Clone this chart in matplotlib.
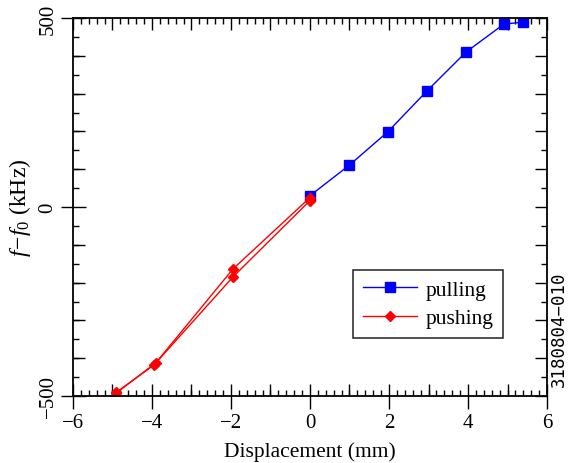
import matplotlib
matplotlib.use("Agg")
import matplotlib.pyplot as plt
from matplotlib.ticker import MultipleLocator, FixedLocator, NullFormatter

plt.rcParams['font.family'] = ['Liberation Serif', 'DejaVu Serif']
plt.rcParams['mathtext.fontset'] = 'custom'
plt.rcParams['mathtext.rm'] = 'Liberation Serif'
plt.rcParams['mathtext.it'] = 'Liberation Serif:italic'
plt.rcParams['axes.unicode_minus'] = True

# pulling data (mm, kHz)
pull_x = [0.0, 1.0, 1.97, 2.96, 3.95, 4.91, 5.39]
pull_y = [30, 111, 199, 307, 410, 484, 489]

# pushing data, out and back
push_x_out = [0.0, -1.95, -3.9, -4.9]
push_y_out = [25, -164, -412, -492]
push_x_back = [0.0, -1.95, -3.95, -4.9]
push_y_back = [17, -185, -418, -490]

x_labels = [-6, -4, -2, 0, 2, 4, 6]
y_labels = [-500, 0, 500]

fig = plt.figure(figsize=(5.81, 4.64), dpi=100)
ax = fig.add_axes([0.1256, 0.1444, 0.8159, 0.8146])

ax.plot(pull_x, pull_y, color='blue', lw=1, marker='s', ms=7.5, label='pulling')
ax.plot(push_x_out, push_y_out, color='red', lw=1, marker='D', ms=5.5, label='pushing')
ax.plot(push_x_back, push_y_back, color='red', lw=1, marker='D', ms=5.5)

ax.set_xlim(-6, 6)
ax.set_ylim(-500, 500)

# labelled ticks cross the axis, the rest point inward
ax.xaxis.set_major_locator(FixedLocator(x_labels))
ax.xaxis.set_minor_locator(MultipleLocator(0.2))
ax.yaxis.set_major_locator(FixedLocator(y_labels))
ax.yaxis.set_minor_locator(MultipleLocator(50))
ax.set_xticklabels([str(v).replace('-', '\u2212') for v in x_labels])
ax.set_yticklabels([str(v).replace('-', '\u2212') for v in y_labels],
                   rotation=90, va='center')
ax.tick_params(which='major', direction='inout', length=18, width=1,
               labelsize=15, top=False, right=False)
ax.tick_params(axis='x', which='major', pad=3)
ax.tick_params(axis='y', which='major', pad=2)
ax.tick_params(which='minor', direction='in', length=4.5, width=1,
               top=False, right=False)

# medium ticks on bottom and left
sb = ax.secondary_xaxis('bottom')
sb.set_xticks([-5, -3, -1, 1, 3, 5])
sb.xaxis.set_major_formatter(NullFormatter())
sb.tick_params(direction='in', length=8.5, width=1)
sb.spines['bottom'].set_visible(False)

sl = ax.secondary_yaxis('left')
sl.set_yticks([-400, -300, -200, -100, 100, 200, 300, 400])
sl.yaxis.set_major_formatter(NullFormatter())
sl.tick_params(direction='in', length=8.5, width=1)
sl.spines['left'].set_visible(False)

# top and right: all inward
st = ax.secondary_xaxis('top')
st.xaxis.set_major_locator(MultipleLocator(1))
st.xaxis.set_minor_locator(MultipleLocator(0.2))
st.xaxis.set_major_formatter(NullFormatter())
st.tick_params(which='major', direction='in', length=8.5, width=1)
st.tick_params(which='minor', direction='in', length=4.5, width=1)
st.spines['top'].set_visible(False)

sr = ax.secondary_yaxis('right')
sr.yaxis.set_major_locator(MultipleLocator(100))
sr.yaxis.set_minor_locator(MultipleLocator(50))
sr.yaxis.set_major_formatter(NullFormatter())
sr.tick_params(which='major', direction='in', length=8.5, width=1)
sr.tick_params(which='minor', direction='in', length=4.5, width=1)
sr.spines['right'].set_visible(False)

for s in ax.spines.values():
    s.set_linewidth(1.3)

ax.set_xlabel('Displacement (mm)', fontsize=15.5, labelpad=7)
ax.set_ylabel(r'$f\!-\!f_0$ (kHz)', fontsize=17, labelpad=4)

leg = ax.legend(loc='lower right', bbox_to_anchor=(0.907, 0.153), fontsize=15.5,
                frameon=True, fancybox=False, edgecolor='black', handlelength=2.5,
                handletextpad=0.4, borderpad=0.45, labelspacing=0.4,
                borderaxespad=0)
leg.get_frame().set_linewidth(1.2)

fig.text(0.962, 0.291, '3180804\u2212010', rotation=90, fontsize=12.5,
         family='DejaVu Sans Mono', ha='center', va='center')

fig.savefig('out.png', dpi=100)
